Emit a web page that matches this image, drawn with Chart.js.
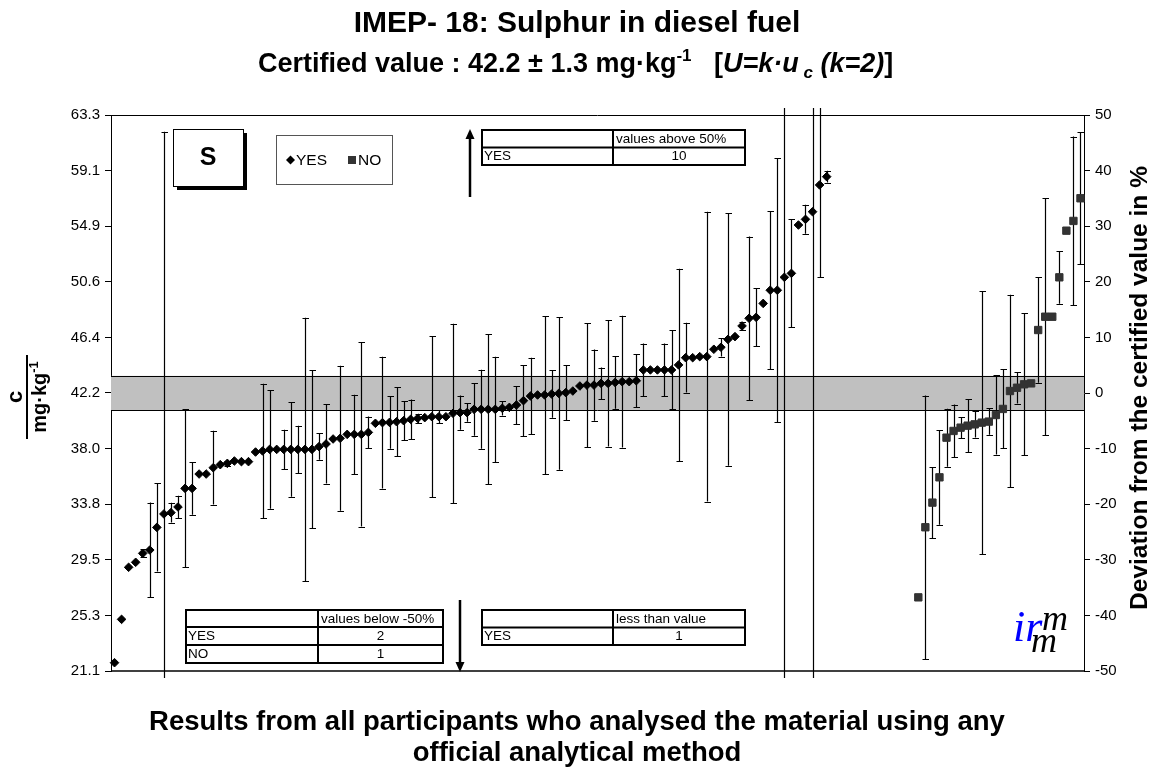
<!DOCTYPE html>
<html>
<head>
<meta charset="utf-8">
<script src="https://cdn.jsdelivr.net/npm/chart.js@4.4.1/dist/chart.umd.min.js"></script>
<style>
html,body{margin:0;padding:0;background:#fff;}
#wrap{width:1155px;height:772px;}
</style>
</head>
<body>
<div id="wrap"><canvas id="c" width="1155" height="772"></canvas></div>
<script>
// ---------------- data ----------------
const categoryCount = 138;
const categories = Array.from({length: categoryCount}, (_, i) => String(i + 1));

const yesValues = [
  21.73, 25.02, 28.97, 29.35, 30.03, 30.28, 32.00, 33.02, 33.12, 33.55,
  34.96, 34.96, 36.05, 36.05, 36.53, 36.76, 36.86, 37.04, 36.99, 36.99,
  37.72, 37.80, 37.92, 37.92, 37.92, 37.92, 37.92, 37.92, 37.92, 38.13,
  38.33, 38.71, 38.76, 39.06, 39.06, 39.06, 39.21, 39.90, 39.95, 39.97,
  40.02, 40.10, 40.20, 40.28, 40.33, 40.40, 40.40, 40.40, 40.66, 40.71,
  40.71, 40.96, 40.96, 40.96, 40.96, 41.04, 41.11, 41.29, 41.62, 41.97,
  42.05, 42.05, 42.12, 42.17, 42.23, 42.35, 42.73, 42.80, 42.80, 42.93,
  42.93, 43.00, 43.06, 43.06, 43.13, 43.95, 43.95, 43.95, 43.95, 43.95,
  44.33, 44.88, 44.88, 44.96, 44.96, 45.52, 45.67, 46.27, 46.48, 47.29,
  47.87, 47.94, 49.00, 50.00, 50.00, 50.98, 51.28, 54.95, 55.38, 55.96,
  57.99, 58.62
];
const yesUnc = [
  0, 0, 0, 0, 0.3, 3.6, 3.35, 29, 0.75, 0.86,
  6, 2, 0, 0, 2.8, 0, 0.2, 0, 0, 0,
  0, 5.1, 4.5, 0, 1.5, 3.6, 1.8, 10, 6, 1,
  3, 0, 5.5, 0, 3, 7, 1.2, 0, 5, 2,
  2.6, 1.5, 1.5, 0.35, 0, 6.1, 0.5, 0, 6.8, 1.3,
  0.7, 2, 3, 5.7, 4, 0.55, 0, 1.45, 2.7, 2.9,
  0, 6, 1.8, 5.8, 2.1, 0, 0, 4.7, 2.7, 1.2,
  4.8, 2, 5, 0, 2, 2, 0, 0, 2, 3,
  7.3, 2.65, 0, 0, 11, 0, 0.7, 9.6, 0, 0.3,
  6.2, 2.2, 0, 6, 10, 40, 4.1, 0, 1.1, 40,
  7, 0.45
];
const noValues = [
  26.69, 32.01, 33.88, 35.80, 38.81, 39.32, 39.57, 39.72, 39.82, 39.95,
  40.03, 40.53, 40.99, 42.35, 42.60, 42.86, 42.93, 46.98, 47.99, 47.99,
  50.98, 54.52, 55.26, 56.98
];
const noUnc = [
  0, 10, 2.7, 3.6, 2.2, 2, 0.8, 2, 1, 10,
  1, 3, 3, 7.3, 1.2, 5.4, 0, 4, 9, 0,
  2, 0, 6.4, 5
];

const certifiedValue = 42.2;
const certifiedUnc = 1.3;
const leftTickLabels = ["21.1","25.3","29.5","33.8","38.0","42.2","46.4","50.6","54.9","59.1","63.3"];
const rightTickLabels = ["-50","-40","-30","-20","-10","0","10","20","30","40","50"];

const tableAbove = [["", "values above 50%"], ["YES", "10"]];
const tableBelow = [["", "values below -50%"], ["YES", "2"], ["NO", "1"]];
const tableLess  = [["", "less than value"], ["YES", "1"]];

const titleText = "IMEP- 18: Sulphur in diesel fuel";
const footerLines = ["Results from all participants who analysed the material using any", "official analytical method"];
const rightTitle = "Deviation from the certified value in %";

// ---------------- build series ----------------
const noStart = categoryCount - noValues.length;
const yesSeries = categories.map((_, i) => i < yesValues.length ? yesValues[i] : null);
const yesErrSeries = categories.map((_, i) => i < yesUnc.length ? yesUnc[i] : 0);
const noSeries = categories.map((_, i) => i >= noStart ? noValues[i - noStart] : null);
const noErrSeries = categories.map((_, i) => i >= noStart ? noUnc[i - noStart] : 0);

const FONT = '"Liberation Sans", Arial, Helvetica, sans-serif';
const SERIF = '"Liberation Serif", "Times New Roman", serif';

function drawTable(ctx, x0, x1, xs, ys, cells) {
  ctx.save();
  ctx.fillStyle = '#fff';
  ctx.fillRect(x0, ys[0], x1 - x0, ys[ys.length - 1] - ys[0]);
  ctx.strokeStyle = '#000';
  ctx.lineWidth = 2;
  ctx.strokeRect(x0, ys[0], x1 - x0, ys[ys.length - 1] - ys[0]);
  ctx.beginPath();
  ctx.moveTo(xs, ys[0]); ctx.lineTo(xs, ys[ys.length - 1]);
  for (let r = 1; r < ys.length - 1; r++) { ctx.moveTo(x0, ys[r]); ctx.lineTo(x1, ys[r]); }
  ctx.stroke();
  ctx.fillStyle = '#000';
  ctx.font = `13.5px ${FONT}`;
  ctx.textBaseline = 'middle';
  cells.forEach((row, r) => {
    const cy = (ys[r] + ys[r + 1]) / 2 + 0.5;
    ctx.textAlign = 'left';
    ctx.fillText(row[0], x0 + 2, cy);
    if (r === 0) { ctx.textAlign = 'left'; ctx.fillText(row[1], xs + 3, cy); }
    else { ctx.textAlign = 'center'; ctx.fillText(row[1], (xs + x1) / 2, cy); }
  });
  ctx.restore();
}

function drawRichLeft(ctx, parts, x, y) {
  ctx.textAlign = 'left';
  ctx.textBaseline = 'alphabetic';
  parts.forEach(p => {
    ctx.font = p.font;
    ctx.fillText(p.text, x, y + (p.dy || 0));
    x += ctx.measureText(p.text).width;
  });
}

function arrow(ctx, x, y0, y1) {
  const dir = Math.sign(y1 - y0);
  ctx.beginPath();
  ctx.moveTo(x, y0); ctx.lineTo(x, y1 - dir * 8);
  ctx.lineWidth = 2.5; ctx.strokeStyle = '#000'; ctx.stroke();
  ctx.beginPath();
  ctx.moveTo(x, y1); ctx.lineTo(x - 4.5, y1 - dir * 10); ctx.lineTo(x + 4.5, y1 - dir * 10); ctx.closePath();
  ctx.fillStyle = '#000'; ctx.fill();
}

const overlay = {
  id: 'overlay',
  beforeDatasetsDraw(chart) {
    const {ctx, chartArea: a, scales: {x, y}} = chart;
    ctx.save();
    const yt = y.getPixelForValue(certifiedValue + certifiedUnc);
    const yb = y.getPixelForValue(certifiedValue - certifiedUnc);
    ctx.fillStyle = '#c0c0c0';
    ctx.fillRect(a.left, yt, a.right - a.left, yb - yt);
    ctx.strokeStyle = '#000'; ctx.lineWidth = 1;
    ctx.beginPath();
    ctx.moveTo(a.left, Math.round(yt) + 0.5); ctx.lineTo(a.right, Math.round(yt) + 0.5);
    ctx.moveTo(a.left, Math.round(yb) + 0.5); ctx.lineTo(a.right, Math.round(yb) + 0.5);
    ctx.stroke();
    ctx.beginPath();
    [[yesSeries, yesErrSeries], [noSeries, noErrSeries]].forEach(([vals, errs]) => {
      vals.forEach((v, i) => {
        const u = errs[i];
        if (v === null || !u) return;
        const px = Math.round(x.getPixelForValue(i)) + 0.5;
        let t = y.getPixelForValue(v + u), b = y.getPixelForValue(v - u);
        const capT = t >= a.top - 0.5, capB = b <= a.bottom + 0.5;
        t = Math.max(t, a.top - 7); b = Math.min(b, a.bottom + 7);
        ctx.moveTo(px, t); ctx.lineTo(px, b);
        if (capT) { const ty = Math.round(t) + 0.5; ctx.moveTo(px - 3, ty); ctx.lineTo(px + 3.5, ty); }
        if (capB) { const by = Math.round(b) + 0.5; ctx.moveTo(px - 3, by); ctx.lineTo(px + 3.5, by); }
      });
    });
    ctx.lineWidth = 1.2; ctx.strokeStyle = '#000';
    ctx.stroke();
    ctx.restore();
  },
  afterDraw(chart) {
    const {ctx, chartArea: a} = chart;
    ctx.save();
    ctx.strokeStyle = '#000';
    ctx.lineWidth = 1;
    ctx.beginPath();
    ctx.moveTo(a.left, Math.round(a.top) + 0.5); ctx.lineTo(a.right, Math.round(a.top) + 0.5);
    ctx.stroke();
    ctx.lineWidth = 1.5;
    ctx.beginPath();
    ctx.moveTo(a.left, a.bottom); ctx.lineTo(a.right, a.bottom);
    ctx.stroke();

    // titles
    ctx.fillStyle = '#000';
    ctx.textAlign = 'center'; ctx.textBaseline = 'alphabetic';
    ctx.font = `bold 30px ${FONT}`;
    ctx.fillText(titleText, 577, 32);
    const B = s => `bold ${s}px ${FONT}`, BI = s => `italic bold ${s}px ${FONT}`;
    drawRichLeft(ctx, [
      {text: 'Certified value : 42.2 ± 1.3 mg·kg', font: B(27)},
      {text: '-1', font: B(17), dy: -11},
      {text: '   [', font: B(27)},
      {text: 'U=k·u', font: BI(27)},
      {text: ' c', font: BI(17), dy: 6},
      {text: ' (k=2)', font: BI(27)},
      {text: ']', font: B(27)}
    ], 258, 72);
    ctx.textAlign = 'center';
    ctx.font = `bold 27.5px ${FONT}`;
    ctx.fillText(footerLines[0], 577, 730);
    ctx.fillText(footerLines[1], 577, 761);

    // left axis title (fraction)
    ctx.save();
    ctx.translate(27, 397);
    ctx.rotate(-Math.PI / 2);
    ctx.textAlign = 'center';
    ctx.font = `bold 22px ${FONT}`;
    ctx.fillText('c', 0, -5);
    ctx.beginPath(); ctx.moveTo(-42, 0); ctx.lineTo(42, 0); ctx.lineWidth = 2; ctx.stroke();
    ctx.font = `bold 20px ${FONT}`;
    const w1 = ctx.measureText('mg·kg').width;
    ctx.font = `bold 13px ${FONT}`;
    const w2 = ctx.measureText('-1').width;
    ctx.textAlign = 'left';
    ctx.font = `bold 20px ${FONT}`;
    ctx.fillText('mg·kg', -(w1 + w2) / 2, 19);
    ctx.font = `bold 13px ${FONT}`;
    ctx.fillText('-1', -(w1 + w2) / 2 + w1, 11);
    ctx.restore();

    // right axis title
    ctx.save();
    ctx.translate(1140, 388);
    ctx.rotate(-Math.PI / 2);
    ctx.textAlign = 'center'; ctx.textBaseline = 'middle';
    ctx.font = `bold 24.5px ${FONT}`;
    ctx.fillText(rightTitle, 0, 0);
    ctx.restore();

    // "S" box with shadow
    ctx.fillStyle = '#000';
    ctx.fillRect(177, 133, 70, 57);
    ctx.fillStyle = '#fff';
    ctx.fillRect(173, 129, 70, 57);
    ctx.strokeStyle = '#000'; ctx.lineWidth = 1;
    ctx.strokeRect(173.5, 129.5, 70, 57);
    ctx.fillStyle = '#000';
    ctx.font = `bold 25px ${FONT}`;
    ctx.textAlign = 'center'; ctx.textBaseline = 'middle';
    ctx.fillText('S', 208, 158);

    // legend box
    ctx.fillStyle = '#fff';
    ctx.fillRect(276, 135, 116, 49);
    ctx.strokeStyle = '#555'; ctx.lineWidth = 1;
    ctx.strokeRect(276.5, 135.5, 116, 49);
    ctx.fillStyle = '#000';
    ctx.beginPath();
    ctx.moveTo(290.5, 155.5); ctx.lineTo(295, 160); ctx.lineTo(290.5, 164.5); ctx.lineTo(286, 160); ctx.closePath();
    ctx.fill();
    ctx.font = `15.5px ${FONT}`;
    ctx.textAlign = 'left'; ctx.textBaseline = 'middle';
    ctx.fillText('YES', 296, 160.5);
    ctx.fillStyle = '#333';
    ctx.fillRect(348, 156, 8, 8);
    ctx.fillStyle = '#000';
    ctx.fillText('NO', 358, 160.5);

    // tables
    drawTable(ctx, 482, 745, 613, [130, 147.5, 165], tableAbove);
    drawTable(ctx, 186, 443, 318, [610, 627, 645, 663], tableBelow);
    drawTable(ctx, 482, 745, 613, [610, 627.5, 645], tableLess);

    // arrows
    arrow(ctx, 470, 197, 129);
    arrow(ctx, 460, 600, 672);

    // irm logo
    ctx.textAlign = 'left'; ctx.textBaseline = 'alphabetic';
    ctx.font = `italic 44px ${SERIF}`;
    ctx.fillStyle = '#0000ff';
    ctx.fillText('ir', 1013, 641);
    ctx.font = `italic 36px ${SERIF}`;
    ctx.fillStyle = '#000';
    ctx.fillText('m', 1042, 630);
    ctx.fillText('m', 1031, 652);
    ctx.restore();
  }
};

new Chart(document.getElementById('c'), {
  type: 'line',
  data: {
    labels: categories,
    datasets: [
      {label: 'YES', data: yesSeries, showLine: false, pointStyle: 'rectRot', pointRadius: 4.3,
       backgroundColor: '#000', borderColor: '#000', borderWidth: 1},
      {label: 'NO', data: noSeries, showLine: false, pointStyle: 'rect', pointRadius: 5.2,
       backgroundColor: '#333', borderColor: '#333', borderWidth: 1}
    ]
  },
  options: {
    responsive: false,
    animation: false,
    devicePixelRatio: 1,
    events: [],
    layout: {padding: {left: 51, right: 0, top: 115, bottom: 101}},
    plugins: {legend: {display: false}, title: {display: false}, tooltip: {enabled: false}},
    scales: {
      x: {type: 'category', offset: true, display: false},
      y: {
        position: 'left', min: 21.1, max: 63.3,
        afterBuildTicks: s => {
          s.ticks = leftTickLabels.map((_, i) => ({value: 21.1 + i * (63.3 - 21.1) / (leftTickLabels.length - 1)}));
        },
        afterFit: s => { s.width = 60; },
        ticks: {autoSkip: false, color: '#000', font: {family: FONT, size: 15}, padding: 5,
                callback: (v, i) => leftTickLabels[i]},
        grid: {drawOnChartArea: false, drawTicks: true, tickLength: 6, color: '#000', tickColor: '#000'},
        border: {display: true, color: '#000', width: 1}
      },
      y2: {
        position: 'right', min: -50, max: 50,
        afterBuildTicks: s => {
          s.ticks = rightTickLabels.map(l => ({value: Number(l)}));
        },
        afterFit: s => { s.width = 71; },
        ticks: {autoSkip: false, color: '#000', font: {family: FONT, size: 15}, padding: 5,
                callback: (v, i) => rightTickLabels[i]},
        grid: {drawOnChartArea: false, drawTicks: true, tickLength: 6, color: '#000', tickColor: '#000'},
        border: {display: true, color: '#000', width: 1}
      }
    }
  },
  plugins: [overlay]
});
</script>
</body>
</html>
